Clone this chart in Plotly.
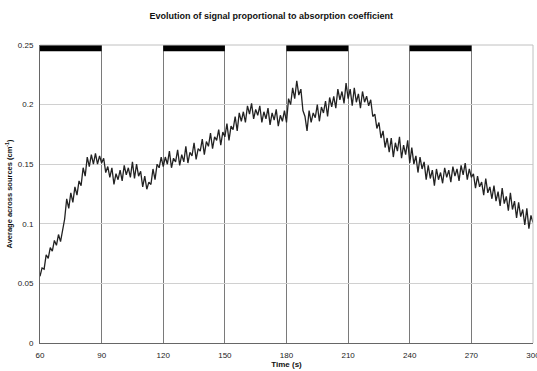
import plotly.graph_objects as go

# Time axis (s) and signal values (1 s sampling)
t_start = 60
signal = [
    0.056, 0.063, 0.062, 0.074, 0.071, 0.080, 0.077, 0.086, 0.082, 0.091,
    0.085, 0.095, 0.104, 0.121, 0.113, 0.126, 0.118, 0.131, 0.124, 0.136,
    0.132, 0.147, 0.140, 0.156, 0.148, 0.158, 0.150, 0.159, 0.150, 0.157,
    0.151, 0.155, 0.143, 0.148, 0.139, 0.147, 0.133, 0.142, 0.137, 0.145,
    0.136, 0.149, 0.141, 0.147, 0.139, 0.152, 0.138, 0.150, 0.140, 0.144,
    0.131, 0.140, 0.129, 0.135, 0.133, 0.146, 0.137, 0.150, 0.147, 0.156,
    0.148, 0.156, 0.150, 0.161, 0.147, 0.155, 0.152, 0.162, 0.149, 0.158,
    0.152, 0.165, 0.151, 0.160, 0.157, 0.168, 0.154, 0.163, 0.161, 0.171,
    0.158, 0.169, 0.165, 0.176, 0.163, 0.173, 0.170, 0.179, 0.166, 0.177,
    0.173, 0.184, 0.170, 0.182, 0.179, 0.190, 0.178, 0.193, 0.186, 0.194,
    0.185, 0.199, 0.192, 0.201, 0.188, 0.196, 0.191, 0.199, 0.185, 0.194,
    0.188, 0.197, 0.183, 0.193, 0.187, 0.196, 0.182, 0.191, 0.186, 0.195,
    0.185, 0.205, 0.200, 0.214, 0.205, 0.220, 0.208, 0.213, 0.195, 0.190,
    0.178, 0.195, 0.185, 0.193, 0.189, 0.200, 0.186, 0.198, 0.193, 0.203,
    0.190, 0.206, 0.198, 0.207, 0.197, 0.213, 0.204, 0.211, 0.201, 0.218,
    0.205, 0.213, 0.199, 0.214, 0.202, 0.209, 0.197, 0.211, 0.202, 0.207,
    0.199, 0.204, 0.190, 0.192, 0.180, 0.185, 0.172, 0.178, 0.164, 0.172,
    0.160, 0.172, 0.156, 0.168, 0.161, 0.173, 0.155, 0.166, 0.158, 0.170,
    0.151, 0.164, 0.150, 0.157, 0.143, 0.156, 0.146, 0.152, 0.137, 0.149,
    0.138, 0.145, 0.132, 0.146, 0.137, 0.143, 0.134, 0.147, 0.139, 0.145,
    0.135, 0.148, 0.140, 0.146, 0.136, 0.149, 0.141, 0.151, 0.137, 0.146,
    0.139, 0.142, 0.130, 0.140, 0.131, 0.135, 0.124, 0.138, 0.126, 0.131,
    0.121, 0.132, 0.119, 0.127, 0.115, 0.130, 0.117, 0.123, 0.111, 0.126,
    0.112, 0.119, 0.105, 0.118, 0.106, 0.112, 0.099, 0.113, 0.096, 0.107,
    0.101,
]
time = [t_start + i for i in range(len(signal))]

# Stimulus periods (black bars along the top)
bar_starts = [60, 120, 180, 240]
bar_ends = [90, 150, 210, 270]

x_ticks = [60, 90, 120, 150, 180, 210, 240, 270, 300]
y_ticks = [0, 0.05, 0.1, 0.15, 0.2, 0.25]
y_tick_labels = ["0", "0.05", "0.1", "0.15", "0.2", "0.25"]

FONT = "Liberation Sans, Arial, sans-serif"

fig = go.Figure()
fig.add_trace(go.Scatter(
    x=time, y=signal, mode="lines",
    line=dict(color="#222222", width=1.3),
    showlegend=False, hoverinfo="skip",
))

for s, e in zip(bar_starts, bar_ends):
    fig.add_shape(type="rect", xref="x", yref="y", x0=s, x1=e,
                  y0=0.2447, y1=0.25, fillcolor="black", line=dict(width=0),
                  layer="above")

fig.update_layout(
    width=537, height=371,
    margin=dict(l=40, r=4, t=45, b=28),
    paper_bgcolor="white", plot_bgcolor="white",
    font=dict(family=FONT, size=8, color="#222"),
    title=dict(
        text="<b>Evolution of signal proportional to absorption coefficient</b>",
        x=0.505, xanchor="center", y=1 - 15.5 / 371, yanchor="middle",
        font=dict(family=FONT, size=9, color="#111"),
    ),
    xaxis=dict(
        range=[60, 300], tickvals=x_ticks, ticktext=[str(v) for v in x_ticks],
        showgrid=True, gridcolor="#7a7a7a", gridwidth=1,
        showline=True, linecolor="#666", linewidth=1, mirror=False,
        ticks="", ticklabelstandoff=4, ticklabeloverflow="allow",
        automargin=False,
        tickfont=dict(family=FONT, size=8, color="#222"),
        title=dict(text="<b>Time (s)</b>", standoff=2,
                   font=dict(family=FONT, size=8, color="#111")),
        zeroline=False,
    ),
    yaxis=dict(
        range=[0, 0.25], tickvals=y_ticks, ticktext=y_tick_labels,
        showgrid=True, gridcolor="#d0d0d0", gridwidth=1,
        showline=True, linecolor="#666", linewidth=1,
        ticks="", ticklabelstandoff=4,
        tickfont=dict(family=FONT, size=8, color="#222"),
        title=dict(text="<b>Average across sources (cm<sup>-1</sup>)</b>", standoff=4,
                   font=dict(family=FONT, size=7.5, color="#111")),
        zeroline=False,
    ),
)

# light border on top and right of the plot area
fig.add_shape(type="line", xref="paper", yref="paper", x0=0, x1=1, y0=1, y1=1,
              line=dict(color="#c0c0c0", width=1))
fig.add_shape(type="line", xref="paper", yref="paper", x0=1, x1=1, y0=0, y1=1,
              line=dict(color="#c0c0c0", width=1))

fig.write_html("out.html")
